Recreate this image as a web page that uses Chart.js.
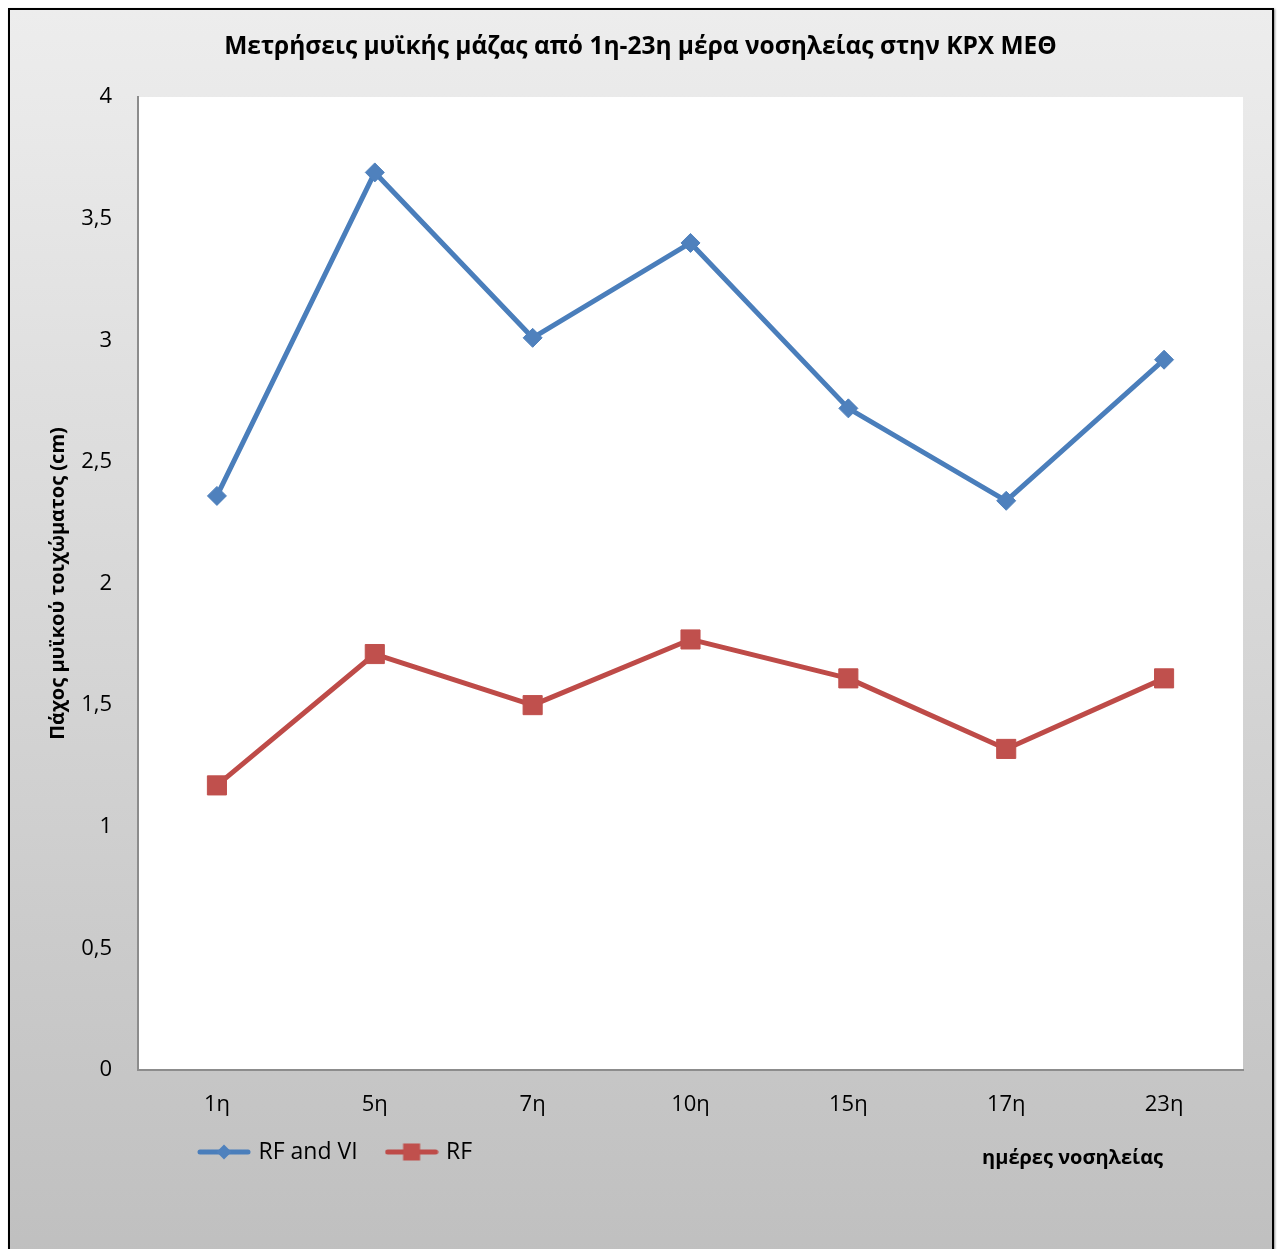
<!DOCTYPE html>
<html>
<head>
<meta charset="utf-8">
<script src="https://cdn.jsdelivr.net/npm/chart.js@4"></script>
<style>
  html, body { margin: 0; padding: 0; background: #fff; width: 1277px; height: 1249px; overflow: hidden; }
  #frame {
    position: absolute; left: 8px; top: 8px; width: 1266px; height: 1262px;
    box-sizing: border-box; border: 2px solid #000;
    background: linear-gradient(to bottom, #ededed 0%, #bfbfbf 100%);
    box-shadow: 1px 1px 2px rgba(0, 0, 0, 0.45);
  }
  #wrap { position: absolute; left: 0; top: 0; width: 1277px; height: 1249px; }
</style>
</head>
<body>
<div id="frame"></div>
<div id="wrap"><canvas id="chart" width="1277" height="1249"></canvas></div>
<script>
// Muscle thickness per hospital day
const categories = ['1η', '5η', '7η', '10η', '15η', '17η', '23η'];
const rfAndViValues = [2.36, 3.69, 3.01, 3.40, 2.72, 2.34, 2.92];
const rfValues = [1.17, 1.71, 1.50, 1.77, 1.61, 1.32, 1.61];
const seriesNames = ['RF and VI', 'RF'];
const chartTitle = 'Μετρήσεις μυϊκής μάζας από 1η-23η μέρα νοσηλείας στην ΚΡΧ ΜΕΘ';
const yAxisTitle = 'Πάχος μυϊκού τοιχώματος (cm)';
const xAxisTitle = 'ημέρες νοσηλείας';
const yMin = 0, yMax = 4, yStep = 0.5;

const FONT = "'Open Sans', 'Noto Sans', sans-serif";
const BLUE_LINE = '#4A7EBB', BLUE_FILL = '#4F81BD';
const RED_LINE = '#BE4B48', RED_FILL = '#C0504D';

// Legend icon: a short line with the series marker in the middle
function legendIcon(lineColor, fillColor, shape) {
  const c = document.createElement('canvas');
  c.width = 54; c.height = 22;
  const g = c.getContext('2d');
  g.strokeStyle = lineColor; g.lineWidth = 5; g.lineCap = 'round';
  g.beginPath(); g.moveTo(3, 11); g.lineTo(51, 11); g.stroke();
  g.fillStyle = fillColor;
  if (shape === 'diamond') {
    g.beginPath(); g.moveTo(27, 3.5); g.lineTo(34.5, 11); g.lineTo(27, 18.5); g.lineTo(19.5, 11); g.closePath(); g.fill();
  } else {
    g.fillRect(18.5, 2.5, 17, 17);
  }
  return c;
}
const legendIcons = [legendIcon(BLUE_LINE, BLUE_FILL, 'diamond'), legendIcon(RED_LINE, RED_FILL, 'square')];

// White plot area, x-axis caption, title centring and legend placement
const plotDecor = {
  id: 'plotDecor',
  afterLayout(chart) {
    chart.titleBlock.right += 38;          // centre the title on the whole frame
    chart.legend.left += 170;              // legend row starts under the first category
    chart.legend.top -= 16.5;              // legend row shares the line with the x caption
  },
  beforeDraw(chart) {
    const a = chart.chartArea, ctx = chart.ctx;
    ctx.save();
    ctx.fillStyle = '#ffffff';
    ctx.fillRect(a.left, a.top, a.right - a.left, a.bottom - a.top);
    ctx.restore();
  },
  afterDraw(chart) {
    const ctx = chart.ctx, xs = chart.scales.x;
    ctx.save();
    ctx.font = "bold 20px " + FONT;
    ctx.fillStyle = '#000';
    ctx.textAlign = 'right';
    ctx.textBaseline = 'middle';
    ctx.fillText(xAxisTitle, xs.getPixelForValue(categories.length - 1) - 1, xs.bottom + 32);
    ctx.restore();
  }
};

new Chart(document.getElementById('chart'), {
  type: 'line',
  data: {
    labels: categories,
    datasets: [
      {
        label: seriesNames[0], data: rfAndViValues,
        borderColor: BLUE_LINE, borderWidth: 5, borderJoinStyle: 'round',
        pointStyle: 'rectRot', pointRadius: 9.5, pointHoverRadius: 9.5,
        pointBackgroundColor: BLUE_FILL, pointBorderColor: BLUE_FILL, pointBorderWidth: 1,
        tension: 0, fill: false
      },
      {
        label: seriesNames[1], data: rfValues,
        borderColor: RED_LINE, borderWidth: 5, borderJoinStyle: 'round',
        pointStyle: 'rect', pointRadius: 13.5, pointHoverRadius: 13.5,
        pointBackgroundColor: RED_FILL, pointBorderColor: RED_FILL, pointBorderWidth: 1,
        tension: 0, fill: false
      }
    ]
  },
  options: {
    responsive: false,
    animation: false,
    devicePixelRatio: 1,
    layout: { padding: { left: 0, right: 34, top: 0, bottom: 59 } },
    plugins: {
      title: {
        display: true, text: chartTitle, color: '#000',
        font: { family: FONT, size: 24.5, weight: 'bold' },
        padding: { top: 32.3, bottom: 35.3 }
      },
      legend: {
        position: 'bottom', align: 'start',
        labels: {
          usePointStyle: true, pointStyleWidth: 46, padding: 31, color: '#000',
          font: { family: FONT, size: 23 },
          generateLabels: (chart) => chart.data.datasets.map((ds, i) => ({
            text: ds.label, pointStyle: legendIcons[i], datasetIndex: i,
            hidden: false, lineWidth: 0, fillStyle: 'transparent', strokeStyle: 'transparent'
          }))
        }
      },
      tooltip: { enabled: false }
    },
    scales: {
      x: {
        type: 'category', offset: true,
        grid: { display: false, drawTicks: false },
        border: { display: true, color: '#8c8c8c', width: 2 },
        ticks: { color: '#000', padding: 21.8, font: { family: FONT, size: 22 } },
        afterFit: (s) => { s.height = 56; }
      },
      y: {
        min: yMin, max: yMax,
        grid: { display: false, drawTicks: false },
        border: { display: true, color: '#8c8c8c', width: 2 },
        ticks: {
          stepSize: yStep, color: '#000', padding: 26, font: { family: FONT, size: 22 },
          callback: (v) => String(v).replace('.', ',')
        },
        title: {
          display: true, text: yAxisTitle, color: '#000',
          font: { family: FONT, size: 20, weight: 'bold' },
          padding: { top: 46, bottom: 0 }
        },
        afterFit: (s) => { s.width = 138; }
      }
    }
  },
  plugins: [plotDecor]
});
</script>
</body>
</html>
